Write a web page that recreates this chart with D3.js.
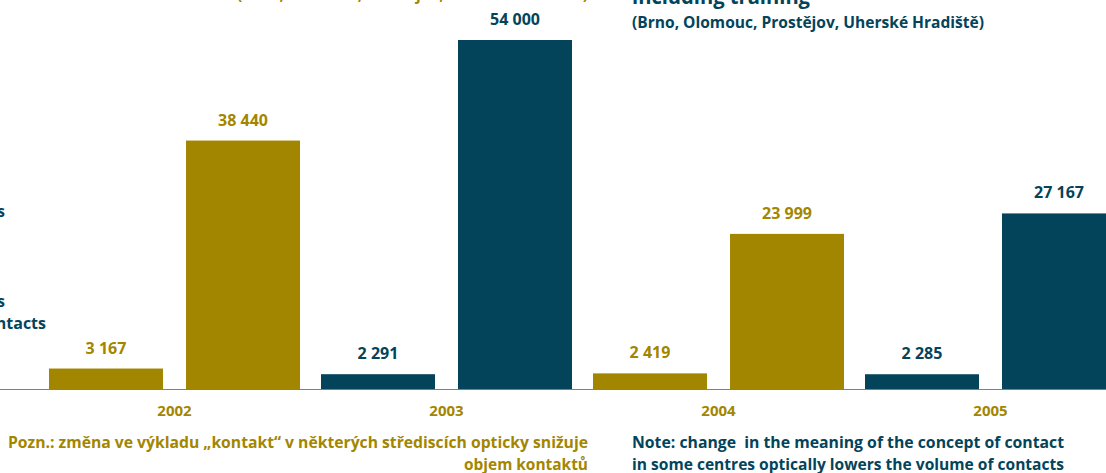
<!DOCTYPE html>
<head>
  <meta charset="utf-8">
  <title>Clients and contacts 2002-2005</title>
<style>
html, body {
  margin: 0;
  padding: 0;
  background: #fff;
}
svg text {
  font-family: 'Open Sans', 'Noto Sans', sans-serif;
  font-weight: bold;
}
</style>
</head>
<body>
<svg width="1106" height="473"></svg>
<script src="https://d3js.org/d3.v7.min.js"></script>
<script>
var years    = ["2002", "2003", "2004", "2005"],
    clients  = [3167, 2291, 2419, 2285],
    contacts = [38440, 54000, 23999, 27167];

var gold = "#a38600",
    blue = "#03445a";

var svg = d3.select("svg"),
    width = +svg.attr("width"),
    height = +svg.attr("height"),
    base = 389;

var x = d3.scaleBand()
    .domain(years)
    .range([49, 1116])
    .paddingInner(21 / 272)
    .paddingOuter(0);

var xs = d3.scaleBand()
    .domain(["clients", "contacts"])
    .range([0, x.bandwidth()])
    .paddingInner(0.168)
    .paddingOuter(0);

var y = d3.scaleLinear()
    .domain([0, 54000])
    .range([base, 40]);

var colour = d3.scaleOrdinal()
    .domain(years)
    .range([gold, blue, gold, blue]);

var fmt = d3.formatLocale({decimal: ",", thousands: "\u00a0", grouping: [3], currency: ["", ""]}).format(",d");

var rows = years.map(function(yr, i) {
  return {year: yr, clients: clients[i], contacts: contacts[i]};
});

var g = svg.selectAll(".year").data(rows)
  .enter().append("g")
    .attr("class", "year")
    .attr("transform", function(d) { return "translate(" + x(d.year) + ",0)"; });

var bars = g.selectAll(".bar")
  .data(function(d) {
    return ["clients", "contacts"].map(function(k) { return {key: k, value: d[k], year: d.year}; });
  })
  .enter();

bars.append("rect")
    .attr("class", "bar")
    .attr("x", function(d) { return xs(d.key); })
    .attr("width", xs.bandwidth())
    .attr("y", function(d) { return y(d.value); })
    .attr("height", function(d) { return base - y(d.value); })
    .attr("fill", function(d) { return colour(d.year); });

bars.append("text")
    .attr("x", function(d) { return xs(d.key) + xs.bandwidth() / 2; })
    .attr("y", function(d) { return y(d.value) - 15; })
    .attr("text-anchor", "middle")
    .style("font-size", "16px")
    .attr("fill", function(d) { return colour(d.year); })
    .text(function(d) { return fmt(d.value); });

// baseline
svg.append("line")
    .attr("x1", 0).attr("x2", width)
    .attr("y1", base + 0.5).attr("y2", base + 0.5)
    .attr("stroke", gold)
    .attr("stroke-width", 1.2);

// year labels
var xAxis = d3.axisBottom(x).tickSize(0).tickPadding(0);
var ax = svg.append("g")
    .attr("transform", "translate(0," + (base + 27) + ")")
    .call(xAxis);
ax.select(".domain").remove();
ax.selectAll("text")
    .attr("dy", 0)
    .attr("fill", gold)
    .style("font-size", "15px")
    .style("font-family", null);

// titles (cut by the frame)
svg.append("text")
    .attr("x", 588).attr("y", 0)
    .attr("text-anchor", "end")
    .attr("fill", gold)
    .style("font-size", "16px")
    .attr("textLength", 351)
    .attr("lengthAdjust", "spacingAndGlyphs")
    .text("(Brno, Olomouc, Prostějov, Uherské Hradiště)");

svg.append("text")
    .attr("x", 632).attr("y", 4)
    .attr("fill", blue)
    .style("font-size", "22px")
    .attr("textLength", 178)
    .attr("lengthAdjust", "spacingAndGlyphs")
    .text("including training");

svg.append("text")
    .attr("x", 632).attr("y", 28)
    .attr("fill", blue)
    .style("font-size", "16px")
    .attr("textLength", 352)
    .attr("lengthAdjust", "spacingAndGlyphs")
    .text("(Brno, Olomouc, Prostějov, Uherské Hradiště)");

// legend labels, mostly outside the frame
var legend = [
  {text: "Number of clients", x: 5, y: 217},
  {text: "Number of visits", x: 5, y: 307},
  {text: "and contacts", x: 46, y: 329}
];
svg.selectAll(".legend").data(legend)
  .enter().append("text")
    .attr("class", "legend")
    .attr("x", function(d) { return d.x; })
    .attr("y", function(d) { return d.y; })
    .attr("text-anchor", "end")
    .attr("fill", blue)
    .style("font-size", "16px")
    .text(function(d) { return d.text; });

// notes
var czNote = [
  {text: "Pozn.: změna ve výkladu „kontakt“ v některých střediscích opticky snižuje", y: 448, len: 580},
  {text: "objem kontaktů", y: 470, len: 124}
];
svg.selectAll(".cz").data(czNote)
  .enter().append("text")
    .attr("class", "cz")
    .attr("x", 588)
    .attr("y", function(d) { return d.y; })
    .attr("text-anchor", "end")
    .attr("fill", gold)
    .style("font-size", "16px")
    .attr("textLength", function(d) { return d.len; })
    .attr("lengthAdjust", "spacingAndGlyphs")
    .text(function(d) { return d.text; });

var enNote = [
  {text: "Note: change  in the meaning of the concept of contact", y: 448, len: 432},
  {text: "in some centres optically lowers the volume of contacts", y: 470, len: 432}
];
svg.selectAll(".en").data(enNote)
  .enter().append("text")
    .attr("class", "en")
    .attr("x", 632)
    .attr("y", function(d) { return d.y; })
    .attr("fill", blue)
    .style("font-size", "16px")
    .attr("xml:space", "preserve")
    .attr("textLength", function(d) { return d.len; })
    .attr("lengthAdjust", "spacingAndGlyphs")
    .text(function(d) { return d.text; });
</script>
</body>
